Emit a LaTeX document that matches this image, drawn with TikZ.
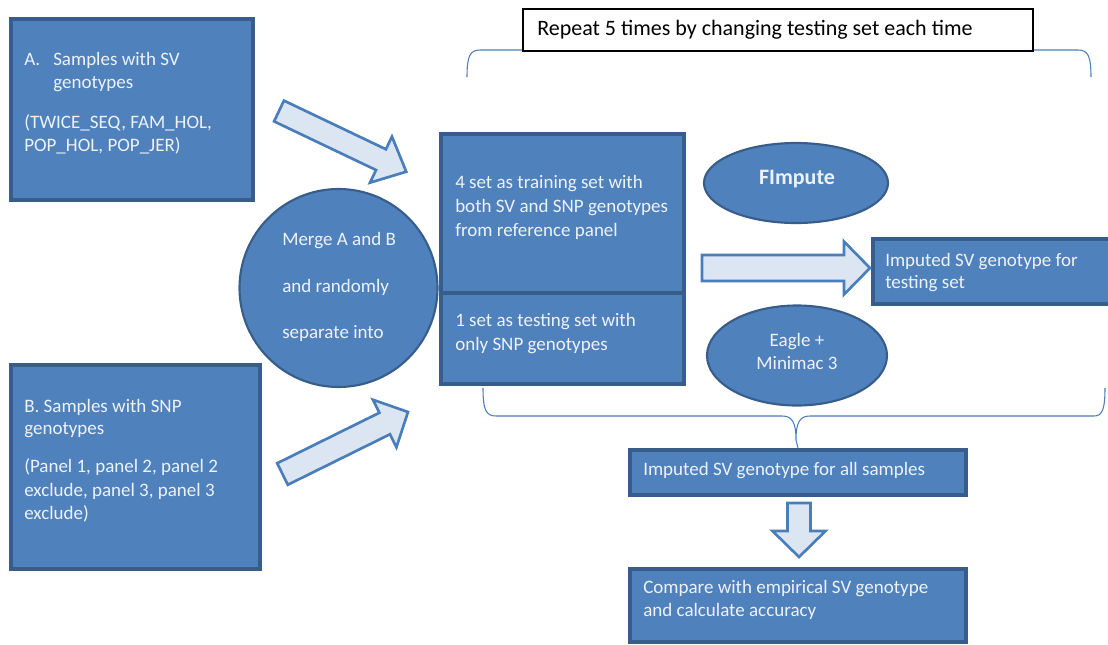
\documentclass[tikz,border=0pt]{standalone}
\usepackage{fontspec}
\setmainfont{Carlito}
\usetikzlibrary{shapes.geometric}
\definecolor{boxfill}{HTML}{4F81BD}
\definecolor{boxline}{HTML}{385D8A}
\definecolor{arrfill}{HTML}{DCE6F2}
\definecolor{arrline}{HTML}{4A7EBB}
\definecolor{txt}{HTML}{EEF2F8}
\newcommand{\px}[1]{#1*0.75pt}
\newcommand{\blockarrow}[7]{%
  \begin{scope}[shift={(#1,#2)},rotate=#3]
    \draw[barrow] (0,{-#5/2}) -- ({#4-#7},{-#5/2}) -- ({#4-#7},{-#6/2}) -- (#4,0)
      -- ({#4-#7},{#6/2}) -- ({#4-#7},{#5/2}) -- (0,{#5/2}) -- cycle;
  \end{scope}}
\begin{document}
\begin{tikzpicture}[x=0.75pt,y=-0.75pt,
  box/.style={draw=boxline,fill=boxfill,line width=3pt,inner sep=0pt,rectangle},
  roundish/.style={draw=boxline,fill=boxfill,line width=1.6pt,inner sep=0pt},
  barrow/.style={draw=arrline,fill=arrfill,line width=2pt,line join=miter},
  brace/.style={draw=arrline,line width=0.8pt},
  lbl/.style={anchor=base west,inner sep=0pt,text=txt,font=\fontsize{14.25}{17}\selectfont},
  clbl/.style={anchor=base,inner sep=0pt,text=txt,font=\fontsize{14.25}{17}\selectfont},
]
\useasboundingbox (0,0) rectangle (1108,644);
\begin{scope}
\clip (0,0) rectangle (1108,644);

% top bracket and label
\draw[brace] (467,77) .. controls (467,56) and (470,50) .. (480,50) -- (1078,50)
  .. controls (1088,50) and (1091,56) .. (1091,77);
\node[draw=black,fill=white,line width=0.8pt,minimum width=\px{510},minimum height=\px{42},inner sep=0pt] (rep) at (778,30) {};
\node[anchor=base west,inner sep=0pt,font=\fontsize{16.5}{19}\selectfont] (reptxt) at (537,35) {Repeat 5 times by changing testing set each time};

% boxes
\node[box,minimum width=\px{242},minimum height=\px{181}] (A) at (132,109.5) {};
\node[box,minimum width=\px{249},minimum height=\px{204}] (B) at (135.5,467) {};
\node[box,minimum width=\px{243},minimum height=\px{159}] (train) at (562.5,213.5) {};
\node[box,minimum width=\px{243},minimum height=\px{91}] (test) at (562.5,338.5) {};
\node[box,minimum width=\px{239},minimum height=\px{65}] (res) at (992.5,271.5) {};
\node[box,minimum width=\px{336},minimum height=\px{45}] (all) at (798,472.5) {};
\node[box,minimum width=\px{336},minimum height=\px{73}] (cmp) at (798,605.5) {};

\node[roundish,circle,minimum size=\px{198}] (merge) at (338.5,288) {};
\node[roundish,ellipse,minimum width=\px{184},minimum height=\px{80}] (fimp) at (796,183) {};
\node[roundish,ellipse,minimum width=\px{180},minimum height=\px{100}] (eagle) at (797,355.5) {};

% block arrows
\blockarrow{279}{111}{-25.5}{141}{23}{51}{28}
\blockarrow{282.5}{474}{26.3}{140}{24}{53}{26}
\blockarrow{702}{268}{0}{168}{26}{53}{26}
\blockarrow{799}{503}{-90}{54}{23}{53}{26}

% bottom brace
\coordinate (tip) at (796,440);
\draw[brace] (483,388) .. controls (483,410) and (486,416) .. (496,416) -- (782,416)
  .. controls (792,416) and (796,422) .. (tip)
  .. controls (796,422) and (800,416) .. (810,416) -- (1094,416)
  .. controls (1102,416) and (1105,410) .. (1105,388);
\draw[brace] (tip) -- (all.north);

% texts
\node[lbl] (a1) at (24,65) {A.};
\node[lbl] (a2) at (53,65) {Samples with SV};
\node[lbl] (a3) at (53,88) {genotypes};
\node[lbl] (a4) at (24,128) {(TWICE\_SEQ, FAM\_HOL,};
\node[lbl] (a5) at (24,151) {POP\_HOL, POP\_JER)};

\node[lbl] (b1) at (24,412) {B. Samples with SNP};
\node[lbl] (b2) at (24,434) {genotypes};
\node[lbl] (b3) at (24,472) {(Panel 1, panel 2, panel 2};
\node[lbl] (b4) at (24,496) {exclude, panel 3, panel 3};
\node[lbl] (b5) at (24,519) {exclude)};

\node[lbl] (m1) at (282,245) {Merge A and B};
\node[lbl] (m2) at (282,292) {and randomly};
\node[lbl] (m3) at (282,338) {separate into};

\node[lbl] (t1) at (455,188) {4 set as training set with};
\node[lbl] (t2) at (455,212) {both SV and SNP genotypes};
\node[lbl] (t3) at (455,236) {from reference panel};

\node[lbl] (s1) at (455,326) {1 set as testing set with};
\node[lbl] (s2) at (455,350) {only SNP genotypes};

\node[clbl,font=\bfseries\fontsize{16.5}{19}\selectfont] (f1) at (797,184) {FImpute};
\node[clbl] (e1) at (797,346) {Eagle +};
\node[clbl] (e2) at (797,369) {Minimac 3};

\node[lbl] (r1) at (885,266) {Imputed SV genotype for};
\node[lbl] (r2) at (885,288) {testing set};

\node[lbl] (al1) at (643,475) {Imputed SV genotype for all samples};
\node[lbl] (c1) at (643,593) {Compare with empirical SV genotype};
\node[lbl] (c2) at (643,616) {and calculate accuracy};
\end{scope}
\end{tikzpicture}
\end{document}
